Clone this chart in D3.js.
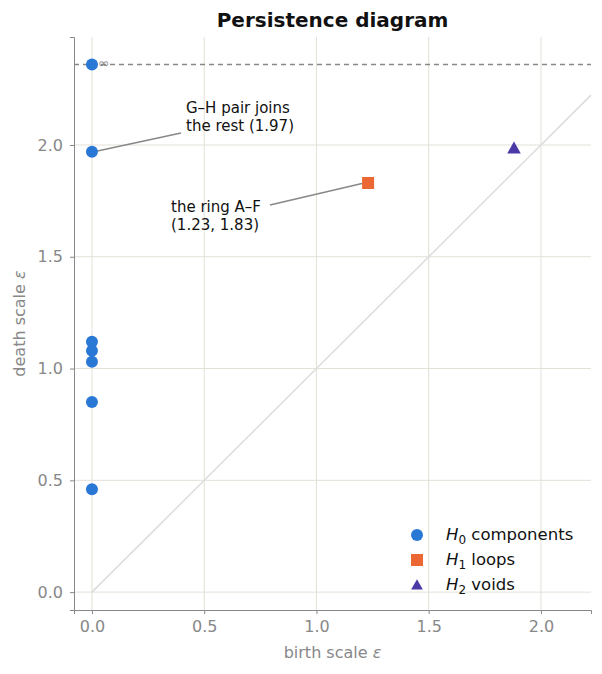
<!DOCTYPE html>
<html><head><meta charset="utf-8">
<script src="https://cdn.jsdelivr.net/npm/d3@7"></script>
<style>body{margin:0;background:#fff}text{font-family:"DejaVu Sans",sans-serif}</style>
</head><body><svg id="c" width="602" height="674"></svg>
<script>
var h0Deaths = [0.46, 0.85, 1.03, 1.08, 1.12, 1.97];
var h0InfDeath = 2.36;
var h1Points = [[1.23, 1.83]];
var h2Points = [[1.88, 1.98]];
var xTicks = [0, 0.5, 1, 1.5, 2];
var yTicks = [0, 0.5, 1, 1.5, 2];

var svg = d3.select('#c');
var m = {l: 74, r: 591, t: 37, b: 610};
var x = d3.scaleLinear().domain([-0.08, 2.223]).range([m.l, m.r]);
var y = d3.scaleLinear().domain([-0.08, 2.483]).range([m.b, m.t]);
var grid = '#e2e0d6', axc = '#888';

var g = svg.append('g');
g.selectAll('.gx').data(xTicks).enter().append('line')
	.attr('x1', d => x(d)).attr('x2', d => x(d)).attr('y1', m.t).attr('y2', m.b)
	.attr('stroke', grid).attr('stroke-width', 1);
g.selectAll('.gy').data(yTicks).enter().append('line')
	.attr('y1', d => y(d)).attr('y2', d => y(d)).attr('x1', m.l).attr('x2', m.r)
	.attr('stroke', grid).attr('stroke-width', 1);

// diagonal
g.append('line').attr('x1', x(0)).attr('y1', y(0)).attr('x2', x(2.223)).attr('y2', y(2.223))
	.attr('stroke', '#dcdcdc').attr('stroke-width', 1.5);
// infinity line
g.append('line').attr('x1', m.l).attr('x2', m.r).attr('y1', y(h0InfDeath)).attr('y2', y(h0InfDeath))
	.attr('stroke', '#888').attr('stroke-width', 1.3).attr('stroke-dasharray', '5,4');
g.append('text').attr('x', x(0) + 6).attr('y', y(h0InfDeath) + 4).attr('font-size', 14)
	.attr('fill', '#888').text('∞');

// axes
var xa = svg.append('g').attr('transform', 'translate(0,' + m.b + ')')
	.call(d3.axisBottom(x).tickValues(xTicks).tickFormat(d3.format('.1f')).tickSize(4).tickPadding(7));
var ya = svg.append('g').attr('transform', 'translate(' + m.l + ',0)')
	.call(d3.axisLeft(y).tickValues(yTicks).tickFormat(d3.format('.1f')).tickSize(4).tickPadding(7));
[xa, ya].forEach(function(a) {
	a.selectAll('path,line').attr('stroke', axc);
	a.selectAll('text').attr('fill', '#888').attr('font-size', 16).style('font-family', 'DejaVu Sans');
});

svg.append('text').attr('x', (m.l + m.r) / 2).attr('y', 658).attr('text-anchor', 'middle')
	.attr('font-size', 16).attr('fill', '#888').html('birth scale <tspan font-style="italic">ε</tspan>');
svg.append('text').attr('transform', 'translate(25,' + ((m.t + m.b) / 2) + ') rotate(-90)')
	.attr('text-anchor', 'middle').attr('font-size', 16).attr('fill', '#888')
	.html('death scale <tspan font-style="italic">ε</tspan>');
svg.append('text').attr('x', (m.l + m.r) / 2).attr('y', 27).attr('text-anchor', 'middle')
	.attr('font-size', 20).attr('font-weight', 'bold').attr('fill', '#111').text('Persistence diagram');

// annotations
function note(px, py, tx, ty, lx, ly, lines) {
	svg.append('line').attr('x1', px).attr('y1', py).attr('x2', lx).attr('y2', ly)
		.attr('stroke', '#888').attr('stroke-width', 1.5);
	var t = svg.append('text').attr('x', tx).attr('y', ty).attr('font-size', 15).attr('fill', '#111');
	lines.forEach(function(s, i) { t.append('tspan').attr('x', tx).attr('dy', i ? 18 : 0).text(s); });
}
note(x(0) + 2, y(1.97), 186, 113, 181, 133, ['G–H pair joins', 'the rest (1.97)']);
note(x(h1Points[0][0]) - 4, y(h1Points[0][1]), 171, 212, 270, 205, ['the ring A–F', '(1.23, 1.83)']);

// points
var blue = '#2a78d6', orange = '#eb6834', purple = '#4b3aa6';
svg.selectAll('.h0').data(h0Deaths.concat([h0InfDeath])).enter().append('circle')
	.attr('cx', x(0)).attr('cy', d => y(d)).attr('r', 6).attr('fill', blue);
svg.selectAll('.h1').data(h1Points).enter().append('rect')
	.attr('x', d => x(d[0]) - 6).attr('y', d => y(d[1]) - 6).attr('width', 12).attr('height', 12).attr('fill', orange);
var tri = d3.symbol().type(d3.symbolTriangle).size(80);
svg.selectAll('.h2').data(h2Points).enter().append('path')
	.attr('d', tri).attr('transform', d => 'translate(' + x(d[0]) + ',' + y(d[1]) + ')').attr('fill', purple);

// legend
var lg = svg.append('g');
var items = [['H', '0', ' components', 'c', blue], ['H', '1', ' loops', 's', orange], ['H', '2', ' voids', 't', purple]];
items.forEach(function(it, i) {
	var cy = 535 + i * 25;
	if (it[3] === 'c') lg.append('circle').attr('cx', 417).attr('cy', cy).attr('r', 6).attr('fill', it[4]);
	else if (it[3] === 's') lg.append('rect').attr('x', 411).attr('y', cy - 6).attr('width', 12).attr('height', 12).attr('fill', it[4]);
	else lg.append('path').attr('d', d3.symbol().type(d3.symbolTriangle).size(60)).attr('transform', 'translate(417,' + (cy + 1) + ')').attr('fill', it[4]);
	var t = lg.append('text').attr('x', 446).attr('y', cy + 5).attr('font-size', 16.5).attr('fill', '#111');
	t.append('tspan').attr('font-style', 'italic').text(it[0]);
	t.append('tspan').attr('font-size', 12).attr('dy', 4).text(it[1]);
	t.append('tspan').attr('dy', -4).text(it[2]);
});
</script></body></html>
